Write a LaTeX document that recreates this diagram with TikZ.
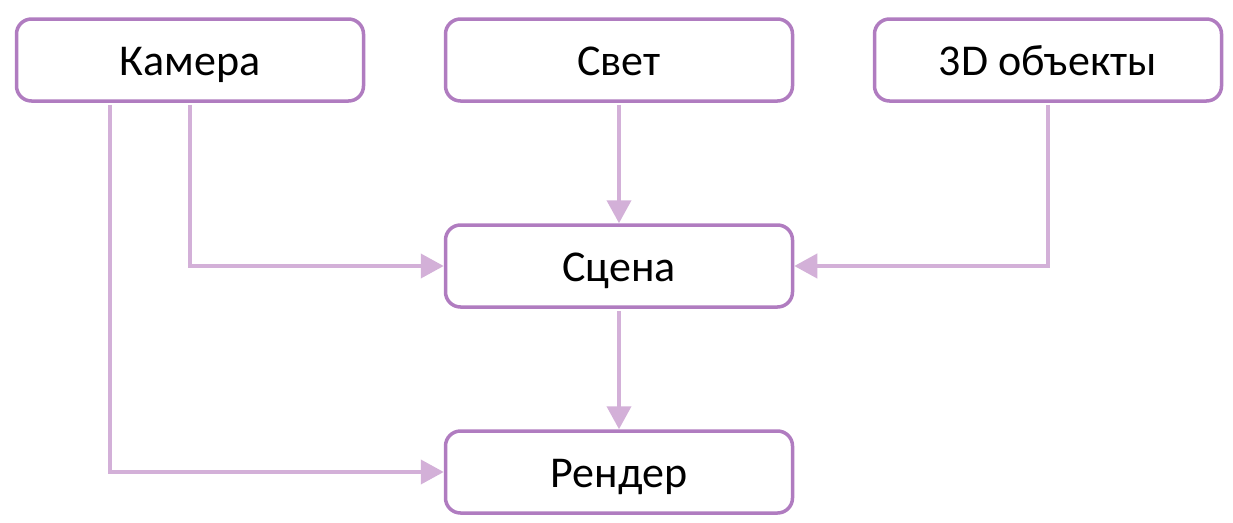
\documentclass[tikz,border=0pt]{standalone}
\usepackage{fontspec}
\setmainfont{Carlito}
\usepackage{tikz}
\usetikzlibrary{arrows.meta}

\definecolor{boxline}{HTML}{B07CC0}
\definecolor{arrowline}{HTML}{D3B0D8}

\tikzset{
	block/.style={draw=boxline,line width=3.5pt,rounded corners=15pt,fill=white,
		minimum width=347pt,minimum height=82pt,inner sep=0pt,
		text height=30pt,text depth=0pt,
		font=\fontsize{44}{52}\selectfont},
	link/.style={draw=arrowline,line width=4pt,-{Triangle[length=23pt,width=24pt]}}
}

\begin{document}
\begin{tikzpicture}[x=1pt,y=-1pt]
			% page size of the reference
			\useasboundingbox (0,0) rectangle (1233,522);
			
			% top row
			\node[block] (camera) at (190,60) {Камера};
			\node[block] (light) at (619,60) {Свет};
			\node[block] (objects) at (1048,60) {3D объекты};
			% middle and bottom
			\node[block] (scene) at (619,266) {Сцена};
			\node[block] (render) at (619,472) {Рендер};
			
			% second line out of the camera box, left of its centre
			\coordinate (camleft) at ([xshift=-80pt,yshift=-2pt]camera.south);
			
			\draw[link] ([yshift=-2pt]camera.south) |- (scene.west);
			\draw[link] (camleft) |- (render.west);
			\draw[link] ([yshift=-2pt]light.south) -- (scene.north);
			\draw[link] ([yshift=-2pt]objects.south) |- (scene.east);
			\draw[link] ([yshift=-2pt]scene.south) -- (render.north);
		\end{tikzpicture}
\end{document}
